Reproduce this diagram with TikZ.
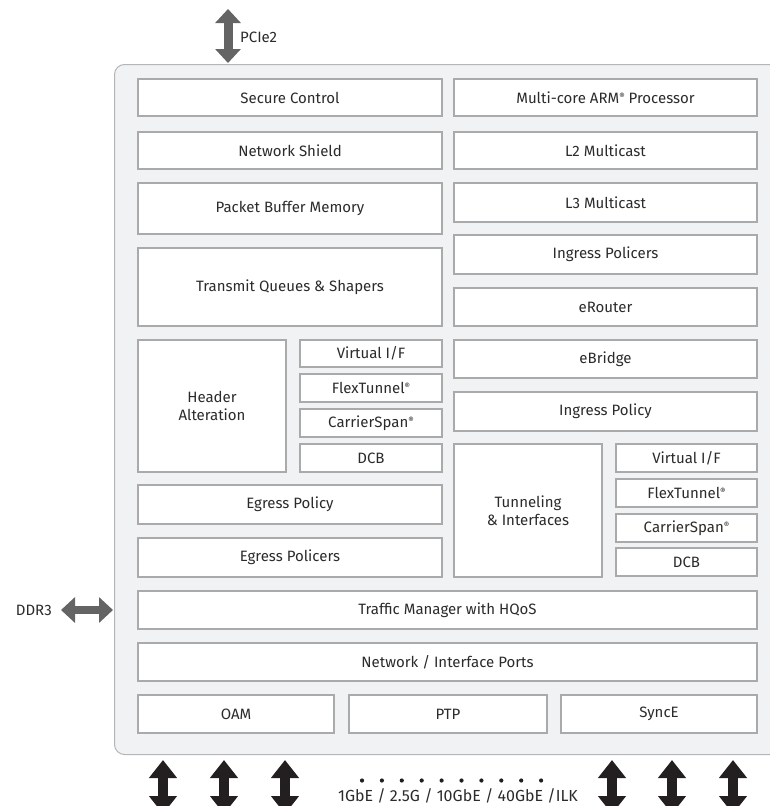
\documentclass[tikz,border=0pt]{standalone}
\usepackage{fontspec}
\setmainfont{Fira Sans}
\usetikzlibrary{arrows.meta}
\definecolor{chipfill}{HTML}{F1F2F3}
\definecolor{chipline}{HTML}{B4B5B7}
\definecolor{boxline}{HTML}{A9AAAC}
\definecolor{txt}{HTML}{2B2B2B}
\definecolor{grayarrow}{HTML}{646464}
\definecolor{darkarrow}{HTML}{231F20}
\newcommand\reg{\raisebox{0.5ex}{\fontsize{8.5}{8.5}\selectfont ®}}
\newcommand\blk[6]{%
  \pgfmathsetmacro\bw{#4-#2-2.4}\pgfmathsetmacro\bh{#5-#3-2.4}%
  \node[blk, minimum width=\bw pt, minimum height=\bh pt] (#1)
    at ({(#2+#4)/2},{(#3+#5)/2}) {#6};}
\begin{document}
\begin{tikzpicture}[x=1pt,y=-1pt,
  blk/.style={draw=boxline, line width=2.4pt, fill=white, inner sep=0pt,
    text=txt, font=\fontsize{15}{17.5}\selectfont, align=center},
  graybig/.style={draw=grayarrow, line width=9pt,
    arrows={Triangle[width=25pt,length=14pt,fill=grayarrow]-Triangle[width=25pt,length=14pt,fill=grayarrow]}},
  darkbig/.style={draw=darkarrow, line width=10pt,
    arrows={Triangle[width=27pt,length=18pt,fill=darkarrow]-Triangle[width=27pt,length=18pt,fill=darkarrow]}},
  lbl/.style={text=txt, font=\fontsize{15}{17}\selectfont, inner sep=0pt}]
\useasboundingbox (0,0) rectangle (770,806);
% chip outline
\draw[fill=chipfill, draw=chipline, line width=1pt, rounded corners=10pt]
  (114.5,64.5) rectangle (790,754.5);
% left column
\blk{sec}{137}{78}{443}{117}{Secure Control}
\blk{ns}{137}{131}{443}{170}{Network Shield}
\blk{pbm}{137}{182}{443}{235}{Packet Buffer Memory}
\blk{tqs}{137}{247}{443}{327}{Transmit Queues \& Shapers}
\blk{ha}{137}{339}{287}{473}{Header\\Alteration}
\blk{vifa}{299}{339}{443}{368}{Virtual I/F}
\blk{fta}{299}{373}{443}{403}{FlexTunnel\reg}
\blk{csa}{299}{408}{443}{438}{CarrierSpan\reg}
\blk{dcba}{299}{443}{443}{473}{DCB}
\blk{ep}{137}{484}{443}{525}{Egress Policy}
\blk{epol}{137}{537}{443}{578}{Egress Policers}
% right column
\blk{arm}{453}{78}{758}{117}{Multi-core ARM\reg\ Processor}
\blk{ltwo}{453}{131}{758}{170}{L2 Multicast}
\blk{lthree}{453}{182}{758}{223}{L3 Multicast}
\blk{ipols}{453}{234}{758}{275}{Ingress Policers}
\blk{er}{453}{287}{758}{327}{eRouter}
\blk{eb}{453}{339}{758}{379}{eBridge}
\blk{ipol}{453}{391}{758}{432}{Ingress Policy}
\blk{tun}{453}{443}{603}{578}{Tunneling\\\& Interfaces}
\blk{vifb}{615}{443}{758}{473}{Virtual I/F}
\blk{ftb}{615}{478}{758}{508}{FlexTunnel\reg}
\blk{csb}{615}{513}{758}{543}{CarrierSpan\reg}
\blk{dcbb}{615}{547}{758}{577}{DCB}
% full width
\blk{tm}{137}{590}{758}{630}{Traffic Manager with HQoS}
\blk{nip}{137}{642}{758}{682}{Network / Interface Ports}
\blk{oam}{137}{694}{335}{734}{OAM}
\blk{ptp}{348}{694}{548}{734}{PTP}
\blk{synce}{560}{694}{758}{734}{SyncE}
% PCIe2
\coordinate (pcieT) at (228,9);
\coordinate (pcieB) at (228,63);
\draw[graybig] (pcieT) -- (pcieB);
\node[lbl, anchor=west] (pcie) at (240,37) {PCIe2};
% DDR3
\node[lbl, anchor=east] (ddr) at (52,610) {DDR3};
\coordinate (ddrR) at (113,610);
\draw[graybig, line width=8pt] ([xshift=9pt]ddr.east) -- (ddrR);
% bottom arrows
\foreach \i/\x in {1/163,2/224,3/285,4/612,5/672,6/733}{
  \coordinate (pt\i) at (\x,760);
  \coordinate (pb\i) at (\x,814);
  \draw[darkbig] (pt\i) -- (pb\i);
}
\foreach \k in {0,...,9}{
  \fill[darkarrow] (362+\k*19.9,780.5) circle (2.1pt);
}
\node[lbl, font=\fontsize{16}{18}\selectfont, text=txt, anchor=base] (speeds) at (458,801)
  {1GbE / 2.5G / 10GbE / 40GbE /ILK};
\end{tikzpicture}
\end{document}
